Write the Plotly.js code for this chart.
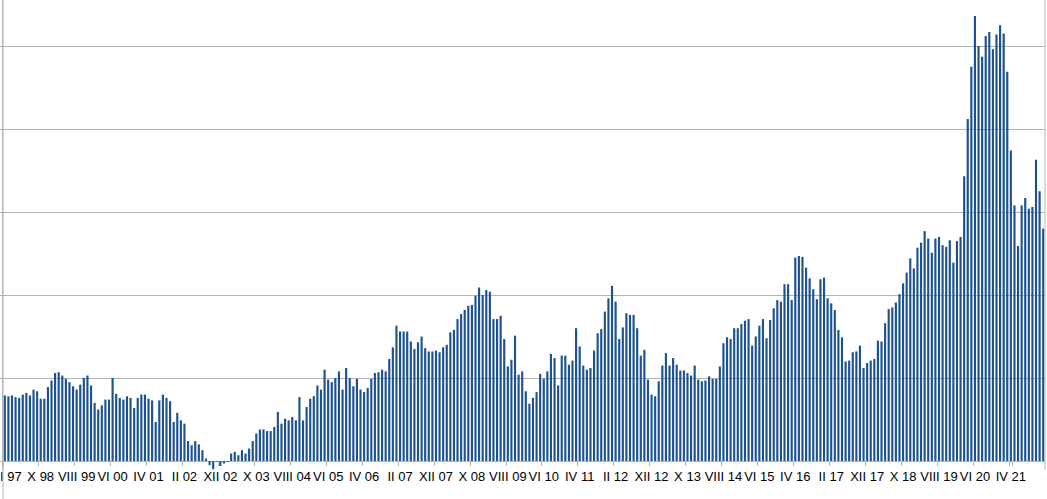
<!DOCTYPE html>
<html>
<head>
<meta charset="utf-8">
<script src="https://cdn.plot.ly/plotly-3.0.1.min.js"></script>
<style>
  html, body { margin: 0; padding: 0; background: #ffffff; }
  #chart { width: 1047px; height: 499px; }
</style>
</head>
<body>
<div id="chart"></div>
<script>
// Monthly series, first month = XII 1997 (values in grid units; gridlines every 1 unit)
const startYear = 1997;
const startMonth = 12;
const romanMonths = ["I","II","III","IV","V","VI","VII","VIII","IX","X","XI","XII"];

const values = [
  0.79,0.78,0.79,0.77,0.76,0.80,0.82,0.79,0.86,0.84,
  0.75,0.75,0.89,0.97,1.06,1.07,1.03,0.99,0.95,0.90,
  0.86,0.92,1.00,1.03,0.91,0.70,0.62,0.67,0.74,0.74,
  1.00,0.81,0.76,0.74,0.78,0.76,0.64,0.76,0.80,0.80,
  0.75,0.73,0.47,0.73,0.80,0.76,0.72,0.47,0.58,0.49,
  0.45,0.24,0.19,0.24,0.20,0.13,0.03,-0.05,-0.10,-0.01,
  -0.06,-0.03,-0.01,0.09,0.11,0.07,0.13,0.09,0.15,0.24,
  0.33,0.38,0.38,0.36,0.36,0.41,0.59,0.45,0.51,0.49,
  0.53,0.49,0.77,0.49,0.65,0.75,0.78,0.91,0.86,1.10,
  0.98,0.95,1.00,1.08,0.86,1.12,1.00,0.90,0.99,0.86,
  0.83,0.88,0.99,1.06,1.07,1.10,1.08,1.23,1.37,1.63,
  1.56,1.56,1.56,1.44,1.35,1.43,1.50,1.36,1.32,1.32,
  1.33,1.31,1.37,1.40,1.55,1.58,1.71,1.77,1.82,1.87,
  1.88,1.99,2.09,2.00,2.06,2.04,1.71,1.71,1.75,1.47,
  1.14,1.22,1.51,1.04,1.08,0.84,0.69,0.76,0.83,1.05,
  0.99,1.08,1.29,1.24,0.91,1.27,1.27,1.16,1.21,1.60,
  1.38,1.15,1.10,1.12,1.33,1.54,1.59,1.80,1.96,2.11,
  1.92,1.47,1.61,1.78,1.76,1.76,1.60,1.27,1.34,0.98,
  0.80,0.78,0.96,1.15,1.30,1.15,1.24,1.16,1.09,1.09,
  1.06,1.03,1.15,0.98,0.96,0.97,1.02,0.99,0.99,1.14,
  1.42,1.49,1.47,1.60,1.60,1.65,1.69,1.71,1.39,1.50,
  1.63,1.71,1.48,1.70,1.84,1.94,1.92,2.13,2.13,1.94,
  2.45,2.47,2.46,2.33,2.20,2.07,1.95,2.19,2.21,1.96,
  1.90,1.82,1.58,1.49,1.20,1.21,1.31,1.32,1.39,1.12,
  1.18,1.21,1.23,1.45,1.44,1.66,1.83,1.85,1.91,2.01,
  2.14,2.27,2.44,2.32,2.57,2.63,2.77,2.68,2.51,2.68,
  2.70,2.60,2.58,2.66,2.39,2.65,2.70,3.43,4.12,4.75,
  5.36,5.00,4.87,5.12,5.17,4.96,5.14,5.25,5.15,4.69,
  3.74,3.08,2.59,3.08,3.17,3.04,3.06,3.63,3.25,2.80
];

const tickLabels = [
  "XII 97","X 98","VIII 99","VI 00","IV 01","II 02","XII 02","X 03",
  "VIII 04","VI 05","IV 06","II 07","XII 07","X 08","VIII 09","VI 10",
  "IV 11","II 12","XII 12","X 13","VIII 14","VI 15","IV 16","II 17",
  "XII 17","X 18","VIII 19","VI 20","IV 21"
];

// category names (one per month)
const months = [];
for (let i = 0; i < values.length; i++) {
  const m0 = (startMonth - 1 + i);
  const y = startYear + Math.floor(m0 / 12);
  const m = m0 % 12;
  months.push(romanMonths[m] + " " + String(y % 100).padStart(2, "0"));
}

const plotH = 470;        // plot area height in px
const pxPerUnit = 83;     // px between gridlines
const zeroFromBottom = 9; // px from plot bottom to zero line

const barTrace = {
  type: "bar",
  x: months,
  y: values,
  marker: { color: "#1d5290", line: { width: 0 } },
  hoverinfo: "x+y",
  xaxis: "x",
  yaxis: "y"
};

const tickTrace = {
  type: "scatter",
  mode: "none",
  x: months,
  y: values,
  hoverinfo: "skip",
  xaxis: "x2",
  yaxis: "y"
};

const layout = {
  width: 1047,
  height: 499,
  margin: { l: 3, r: 2, t: 0, b: 499 - plotH, pad: 0 },
  paper_bgcolor: "#ffffff",
  plot_bgcolor: "#ffffff",
  showlegend: false,
  bargap: 0.4,
  font: { family: "Liberation Sans, Arial, sans-serif", size: 13, color: "#000000" },
  xaxis: {
    type: "category",
    categoryorder: "array",
    categoryarray: months,
    range: [-0.5, months.length - 0.5],
    tickmode: "array",
    tickvals: tickLabels,
    ticktext: tickLabels,
    ticks: "",
    tickangle: 0,
    ticklabelstandoff: -3,
    ticklabeloverflow: "allow",
    showgrid: false,
    showline: false,
    zeroline: false,
    automargin: false,
    fixedrange: true
  },
  xaxis2: {
    type: "category",
    categoryorder: "array",
    categoryarray: months,
    overlaying: "x",
    anchor: "free",
    position: zeroFromBottom / plotH,
    range: [-0.5, months.length - 0.5],
    tickmode: "array",
    tickvals: tickLabels,
    showticklabels: false,
    ticks: "outside",
    tickson: "boundaries",
    ticklen: 4,
    tickcolor: "#b3b3b3",
    showgrid: false,
    showline: false,
    zeroline: false,
    fixedrange: true
  },
  yaxis: {
    range: [-zeroFromBottom / pxPerUnit, (plotH - zeroFromBottom) / pxPerUnit],
    tick0: 0,
    dtick: 1,
    showgrid: true,
    gridcolor: "#b3b3b3",
    gridwidth: 1,
    zeroline: true,
    zerolinecolor: "#b3b3b3",
    zerolinewidth: 1,
    showline: true,
    linecolor: "#b3b3b3",
    linewidth: 1,
    ticks: "outside",
    ticklen: 3,
    tickcolor: "#b3b3b3",
    showticklabels: false,
    automargin: false,
    fixedrange: true
  },
  shapes: [
    { type: "line", xref: "paper", yref: "paper", x0: 0, x1: 0, y0: -(499 - plotH) / plotH, y1: 1,
      line: { color: "#b3b3b3", width: 1 } },
    { type: "line", xref: "paper", yref: "paper", x0: 1, x1: 1, y0: 0, y1: 1,
      line: { color: "#b3b3b3", width: 1 } }
  ]
};

Plotly.newPlot("chart", [barTrace, tickTrace], layout, { displayModeBar: false, staticPlot: true });
</script>
</body>
</html>
